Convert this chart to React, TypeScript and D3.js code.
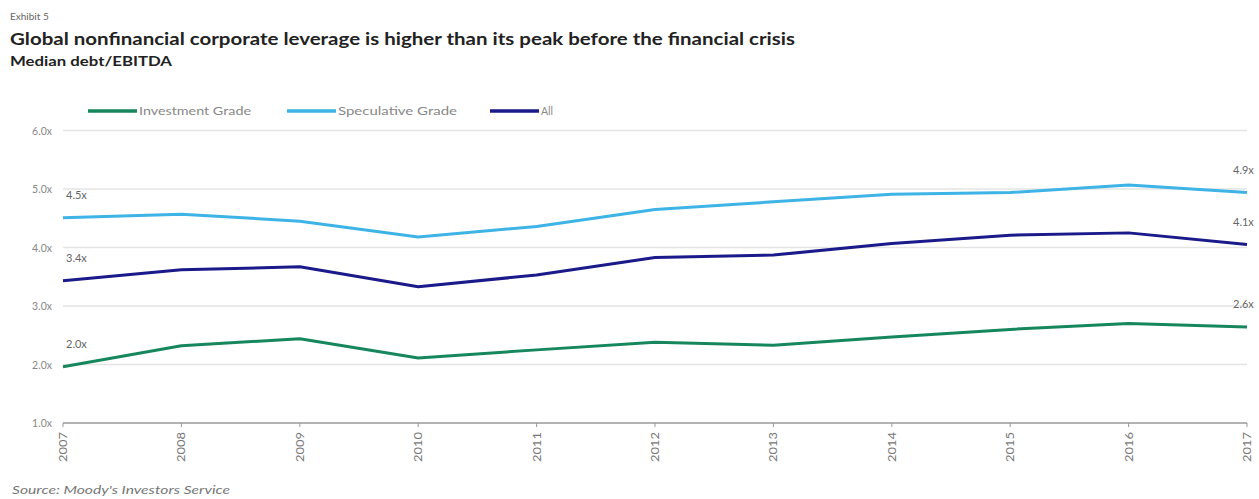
import React from "react";
import * as d3 from "d3";

const years = [2007, 2008, 2009, 2010, 2011, 2012, 2013, 2014, 2015, 2016, 2017];
const investmentGrade = [1.96, 2.32, 2.44, 2.11, 2.25, 2.38, 2.33, 2.47, 2.6, 2.7, 2.64];
const speculativeGrade = [4.51, 4.57, 4.45, 4.18, 4.36, 4.65, 4.78, 4.91, 4.94, 5.07, 4.94];
const allCompanies = [3.43, 3.62, 3.67, 3.33, 3.53, 3.83, 3.87, 4.07, 4.21, 4.25, 4.05];
const yTicks = [1, 2, 3, 4, 5, 6];
const seriesNames = ["Investment Grade", "Speculative Grade", "All"];
const startLabels = ["2.0x", "4.5x", "3.4x"];
const endLabels = ["2.6x", "4.9x", "4.1x"];

const colors = ["#16875c", "#3db3e6", "#1b1a8a"];

export default function App() {
  const W = 1259;
  const H = 499;
  const left = 63;
  const right = 1247;
  const x = d3.scalePoint<number>().domain(years).range([left, right]);
  const y = d3.scaleLinear().domain([1, 6]).range([423, 130.5]);
  const series = [investmentGrade, speculativeGrade, allCompanies];
  const line = d3
    .line<number>()
    .x((_, i) => x(years[i]) as number)
    .y((d) => y(d));

  const legendX = [88, 287, 490];
  const legendW = [112, 119, 12];
  const font = "Lato, 'Open Sans', sans-serif";

  return (
    <svg
      width={W}
      height={H}
      style={{ position: "absolute", left: 0, top: 0, background: "#fff" }}
      fontFamily={font}
    >
      <text x={10} y={20} fontSize={10} fill="#666">Exhibit 5</text>
      <text x={10} y={45} fontSize={17} fontWeight={700} fill="#222" textLength={785} lengthAdjust="spacingAndGlyphs">
        Global nonfinancial corporate leverage is higher than its peak before the financial crisis
      </text>
      <text x={10} y={66} fontSize={13} fontWeight={700} fill="#222" textLength={162} lengthAdjust="spacingAndGlyphs">
        Median debt/EBITDA
      </text>

      {seriesNames.map((n, i) => (
        <g key={n}>
          <line x1={legendX[i]} x2={legendX[i] + 49} y1={111} y2={111} stroke={colors[i]} strokeWidth={3.5} />
          <text
            x={legendX[i] + 51}
            y={115}
            fontSize={11}
            fill="#888"
            textLength={legendW[i]}
            lengthAdjust="spacingAndGlyphs"
          >
            {n}
          </text>
        </g>
      ))}

      {yTicks.map((t) => (
        <g key={t}>
          {t > 1 && (
            <line x1={left} x2={right} y1={y(t)} y2={y(t)} stroke="#e4e4e4" strokeWidth={1.5} />
          )}
          <text x={52} y={y(t) + 4} fontSize={10.5} fill="#888" textAnchor="end">
            {d3.format(".1f")(t)}x
          </text>
        </g>
      ))}

      <line x1={left} x2={right} y1={y(1)} y2={y(1)} stroke="#999" strokeWidth={1.5} />
      {years.map((yr) => (
        <g key={yr} transform={`translate(${x(yr)},${y(1)})`}>
          <line y1={0} y2={4} stroke="#999" />
          <text
            transform="rotate(-90)"
            x={-9}
            y={4}
            fontSize={11}
            fill="#777"
            textAnchor="end"
            textLength={30}
            lengthAdjust="spacingAndGlyphs"
          >
            {yr}
          </text>
        </g>
      ))}

      {series.map((s, i) => (
        <path key={i} d={line(s) || ""} fill="none" stroke={colors[i]} strokeWidth={3} strokeLinejoin="round" />
      ))}

      {series.map((s, i) => (
        <g key={"lab" + i}>
          <text x={x(years[0])! + 3} y={y(s[0]) - 19} fontSize={11} fill="#666">{startLabels[i]}</text>
          <text x={x(years[years.length - 1])! - 14} y={y(s[s.length - 1]) - 19} fontSize={11} fill="#666">
            {endLabels[i]}
          </text>
        </g>
      ))}

      <text x={12} y={494} fontSize={12} fontStyle="italic" fill="#777" textLength={218} lengthAdjust="spacingAndGlyphs">
        Source: Moody's Investors Service
      </text>
    </svg>
  );
}
